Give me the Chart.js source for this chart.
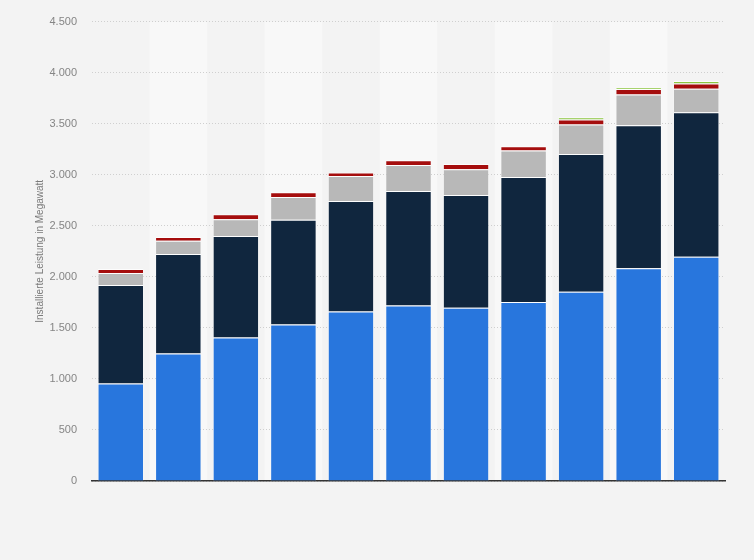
<!DOCTYPE html>
<html lang="de">
<head>
<meta charset="utf-8">
<title>Installierte Leistung</title>
<script src="https://cdn.jsdelivr.net/npm/chart.js@4.4.1/dist/chart.umd.min.js"></script>
<style>
   html, body { margin: 0; padding: 0; background: #f3f3f3; }
   #wrap { width: 754px; height: 560px; }
</style>
</head>
<body>
<div id="wrap"><canvas id="myChart" width="754" height="560"></canvas></div>
<script>
// Chart data (MW)
const years = ["2008", "2009", "2010", "2011", "2012", "2013", "2014", "2015", "2016", "2017", "2018"];
const seriesBlue = [955, 1250, 1406, 1533, 1660, 1718, 1696, 1754, 1855, 2083, 2196];
const seriesNavy = [965, 973, 995, 1025, 1083, 1123, 1106, 1223, 1347, 1402, 1416];
const seriesGray = [117, 130, 163, 224, 244, 254, 251, 261, 290, 300, 231];
const seriesRed = [40, 36, 49, 46, 36, 48, 51, 42, 50, 55, 50];
const seriesGreen = [0, 0, 0, 0, 0, 0, 0, 0, 22, 15, 25];
const yTicks = [0, 500, 1000, 1500, 2000, 2500, 3000, 3500, 4000, 4500];

// German thousands separator
function formatDe(v) {
   return String(v).replace(/\B(?=(\d{3})+(?!\d))/g, ".");
}

// alternating column bands behind the bars
const bandPlugin = {
   id: "bands",
   beforeDraw(chart) {
      const ctx = chart.ctx;
      const area = chart.chartArea;
      const x = chart.scales.x;
      ctx.save();
      ctx.fillStyle = "#f3f3f3";
      ctx.fillRect(0, 0, chart.width, chart.height);
      const step = (area.right - area.left) / years.length;
      ctx.fillStyle = "#f8f8f8";
      years.forEach((y, i) => {
         if (i % 2 == 1) {
            let cx = x.getPixelForValue(i);
            ctx.fillRect(cx - step / 2, area.top, step, area.bottom - area.top);
         }
      });
      ctx.restore();
   }
};

const border = "rgba(255, 255, 255, 0.8)";
function makeSet(label, values, color) {
   return {
      label: label,
      data: values,
      backgroundColor: color,
      borderColor: border,
      borderWidth: { top: 1, left: 0.5, right: 0.5, bottom: 0 },
      borderSkipped: false,
      barPercentage: 0.79,
      categoryPercentage: 1.0
   };
}

let ctx = document.getElementById("myChart").getContext("2d");
let myChart = new Chart(ctx, {
   type: "bar",
   data: {
      labels: years,
      datasets: [
         makeSet("Serie 1", seriesBlue, "#2876dd"),
         makeSet("Serie 2", seriesNavy, "#10263e"),
         makeSet("Serie 3", seriesGray, "#b8b8b8"),
         makeSet("Serie 4", seriesRed, "#a50d0d"),
         makeSet("Serie 5", seriesGreen, "#8cc63f")
      ]
   },
   options: {
      responsive: false,
      animation: false,
      layout: { padding: { left: 28, right: 29, top: 20, bottom: 79 } },
      plugins: {
         legend: { display: false },
         tooltip: { enabled: false }
      },
      scales: {
         x: {
            stacked: true,
            ticks: { display: false },
            grid: { display: false, drawTicks: false },
            border: { display: true, color: "#333333", width: 1.5 }
         },
         y: {
            stacked: true,
            min: 0,
            max: 4500,
            afterFit(scale) { scale.width = 64; },
            afterBuildTicks(scale) { scale.ticks = yTicks.map(v => ({ value: v })); },
            ticks: {
               padding: 15,
               color: "#858585",
               font: { family: "Liberation Sans, Arial, sans-serif", size: 11 },
               callback: v => formatDe(v)
            },
            grid: {
               color: "#cfcfcf",
               lineWidth: 1,
               drawTicks: false
            },
            border: { display: false, dash: [1, 2] },
            title: {
               display: true,
               text: "Installierte Leistung in Megawatt",
               color: "#7a7a7a",
               font: { family: "Liberation Sans, Arial, sans-serif", size: 10 },
               padding: { top: 6, bottom: 0 }
            }
         }
      }
   },
   plugins: [bandPlugin]
});
</script>
</body>
</html>
